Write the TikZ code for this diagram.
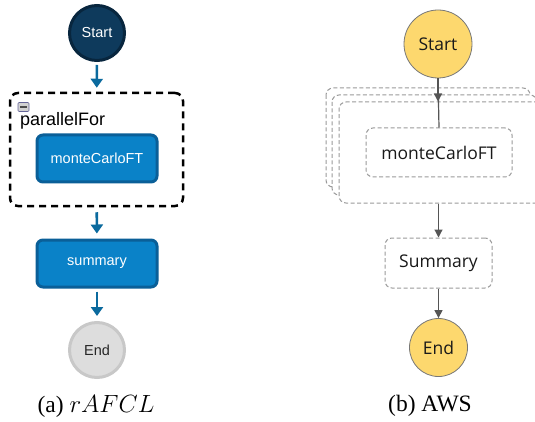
\documentclass[tikz,border=0pt]{standalone}
\usepackage{fontspec}
\setmainfont{Liberation Serif}
\newfontfamily\arialf{Liberation Sans}
\newfontfamily\awsf{Open Sans}
\usetikzlibrary{arrows.meta,calc}
\definecolor{navy}{HTML}{0E3A5C}
\definecolor{navyb}{HTML}{08263E}
\definecolor{boxblue}{HTML}{0A82C8}
\definecolor{boxblueb}{HTML}{0A5F98}
\definecolor{arrblue}{HTML}{0B6A9E}
\definecolor{endgray}{HTML}{DDDDDD}
\definecolor{endgrayb}{HTML}{C8C8C8}
\definecolor{awsyellow}{HTML}{FDD86E}
\definecolor{awsline}{HTML}{555555}
\definecolor{awsdash}{HTML}{9A9A9A}
\tikzset{
  lcircle/.style={circle, minimum size=55pt, inner sep=0pt, line width=3pt, font=\arialf\fontsize{14.5}{16}\selectfont},
  lbox/.style={rectangle, rounded corners=6pt, fill=boxblue, draw=boxblueb, line width=3pt, text=white, inner sep=0pt, font=\arialf\fontsize{14.5}{16}\selectfont},
  larrow/.style={draw=arrblue, line width=2.6pt, -{Triangle[length=9pt,width=12pt]}, arrblue},
  rcircle/.style={circle, minimum size=68pt, inner sep=0pt, fill=awsyellow, draw=awsline!80, line width=0.8pt, text=black!90, font=\awsf\fontsize{17.5}{19}\selectfont},
  rdash/.style={draw=awsdash, dash pattern=on 4pt off 2.5pt, line width=1pt, rounded corners=7pt},
  rbox/.style={rdash, rectangle, inner sep=0pt, text=black!90, font=\awsf\fontsize{17.5}{19}\selectfont},
  rarrow/.style={draw=awsline, line width=1.2pt, -{Triangle[length=8pt,width=8pt]}},
  rline/.style={draw=awsline, line width=1.2pt},
  captionf/.style={font=\fontsize{23.5}{26}\selectfont, text=black},
}
\begin{document}
\begin{tikzpicture}[x=1pt,y=-1pt]
\useasboundingbox (0,0) rectangle (535,422);
\clip (0,0) rectangle (535,422);
\fill[white] (0,0) rectangle (535,422);
% ---------- left: rAFCL ----------
\node[lcircle, fill=navy, draw=navyb, text=white] (startL) at (97,33) {Start};
\node[rectangle, draw=black, line width=2.5pt, dash pattern=on 7pt off 5pt, rounded corners=8pt, minimum width=173pt, minimum height=113pt, inner sep=0pt] (pfor) at (96.5,149.5) {};
\node[rectangle, rounded corners=1pt, fill=gray!35, draw=gray!80!blue, line width=0.6pt, minimum width=11pt, minimum height=9pt, inner sep=0pt] (minus) at (23.5,107) {};
\draw[line width=1.3pt, black!70] ($(minus.west)+(2.5pt,0)$) -- ($(minus.east)+(-2.5pt,0)$);
\node[anchor=west, inner sep=0pt, font=\arialf\fontsize{18}{20}\selectfont] (pforlabel) at (20,121) {parallelFor};
\node[lbox, minimum width=120pt, minimum height=47pt] (mcL) at (97,158.5) {monteCarloFT};
\node[lbox, minimum width=120pt, minimum height=47pt] (sumL) at (97,263.5) {summary};
\node[lcircle, fill=endgray, draw=endgrayb, text=black!85] (endL) at (97,350) {End};
\draw[larrow, shorten <=3pt, shorten >=4pt] (startL) -- (pfor);
\draw[larrow, shorten <=5pt, shorten >=5pt] (pfor) -- (sumL);
\draw[larrow, shorten <=3pt, shorten >=5pt] (sumL) -- (endL);
\node[captionf] (capa) at (96,406) {(a) $rAFCL$};
% ---------- right: AWS ----------
\node[rcircle] (startR) at (438,44) {Start};
\draw[rdash] (326,88) rectangle (530,187);
\draw[rdash, fill=white] (332,95) rectangle (537,195);
\node[rbox, fill=white, minimum width=206pt, minimum height=101pt] (stack) at (442,152.5) {};
\node[rbox, minimum width=146pt, minimum height=49pt] (mcR) at (439,152.5) {monteCarloFT};
\coordinate (stacktop) at (startR.south |- stack.north);
\draw[rline] (startR.south) -- (mcR.north);
\draw[rarrow] (startR.south) -- (stacktop);
\node[rbox, minimum width=107pt, minimum height=50pt] (sumR) at (438.5,263) {Summary};
\node[rcircle, minimum size=58pt] (endR) at (438.5,347.5) {End};
\draw[rarrow] (stack.south -| sumR.north) -- (sumR.north);
\draw[rarrow] (sumR) -- (endR);
\node[captionf] (capb) at (430,406) {(b) AWS};
\end{tikzpicture}
\end{document}
